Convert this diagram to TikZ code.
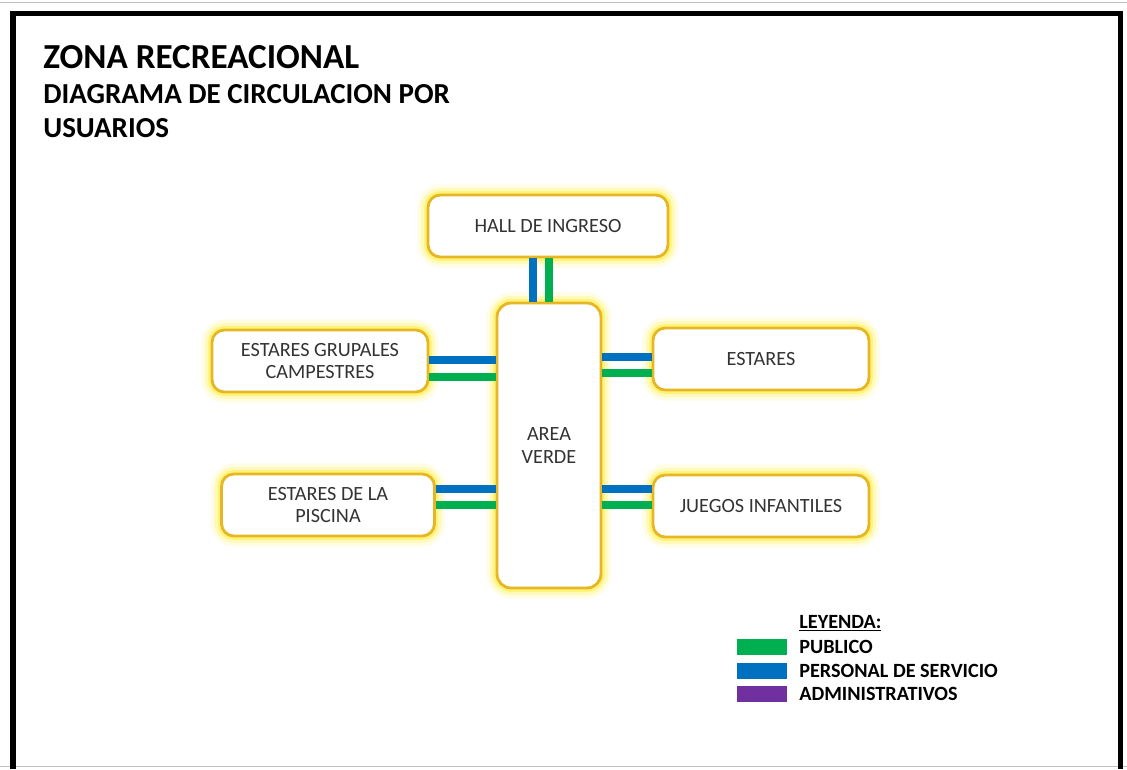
\documentclass[tikz,border=0pt]{standalone}
\usepackage{fontspec}
\setmainfont{Carlito}
\usetikzlibrary{calc}
\definecolor{marco}{RGB}{230,182,36}
\definecolor{brillo}{RGB}{255,238,40}
\definecolor{publico}{RGB}{0,176,80}
\definecolor{servicio}{RGB}{0,112,192}
\definecolor{admin}{RGB}{112,48,160}

\begin{document}
\begin{tikzpicture}[x=0.02cm,y=-0.02cm,every node/.style={font=\fontsize{11.5}{13}\selectfont,text=black!80},
  zona/.style={draw=marco,line width=1.6pt,fill=white,rounded corners=7pt,align=center,inner sep=0pt,
    preaction={draw=brillo,line width=12pt,opacity=.12},
    preaction={draw=brillo,line width=8pt,opacity=.22},
    preaction={draw=brillo,line width=4.5pt,opacity=.45}},
  barra/.style={line width=4pt},
  titulo/.style={anchor=base west,inner sep=0pt,text=black},
  ley/.style={titulo,font=\bfseries\fontsize{11.5}{13}\selectfont}]
\useasboundingbox (0,0) rectangle (1127,769);
\draw[black!25,line width=.5pt] (0,2.5)--(1127,2.5);
\draw[black!25,line width=.5pt] (0,766)--(1127,766);
\draw[line width=3.4pt] (13,769)--(13,13.5)--(1120.5,13.5)--(1120.5,769);
% titulo
\node[titulo,font=\bfseries\fontsize{20}{24}\selectfont] (zona) at (43,68) {ZONA RECREACIONAL};
\node[titulo,font=\bfseries\fontsize{16.5}{19}\selectfont] (sub1) at (43,103) {DIAGRAMA DE CIRCULACION POR};
\node[titulo,font=\bfseries\fontsize{16.5}{19}\selectfont] (sub2) at (43,137) {USUARIOS};
% zonas
\node[zona,minimum width=4.8cm,minimum height=1.24cm] (hall) at (548,226) {HALL DE INGRESO};
\node[zona,minimum width=2.08cm,minimum height=5.7cm,rounded corners=8pt] (area) at (549,445.5) {AREA\\VERDE};
\node[zona,minimum width=4.32cm,minimum height=1.24cm] (grupal) at (320,361) {ESTARES GRUPALES\\CAMPESTRES};
\node[zona,minimum width=4.32cm,minimum height=1.24cm] (estar) at (761,359) {ESTARES};
\node[zona,minimum width=4.26cm,minimum height=1.24cm] (piscina) at (328,505) {ESTARES DE LA\\PISCINA};
\node[zona,minimum width=4.32cm,minimum height=1.24cm] (juegos) at (761,506) {JUEGOS INFANTILES};
% circulaciones
\coordinate (h1) at ($(hall.south)+(-15,0)$);
\coordinate (h2) at ($(hall.south)+(1,0)$);
\draw[barra,servicio] (h1)--(h1 |- area.north);
\draw[barra,publico] (h2)--(h2 |- area.north);
\foreach \z/\lado/\borde/\a/\b in {grupal/east/west/-1/16,estar/west/east/-2/14,piscina/east/west/-16/0,juegos/west/east/-17/-1}{
  \coordinate (s) at ($(\z.\lado)+(0,\a)$);
  \coordinate (p) at ($(\z.\lado)+(0,\b)$);
  \draw[barra,servicio] (s)--(s -| area.\borde);
  \draw[barra,publico] (p)--(p -| area.\borde);
}
% leyenda
\node[ley] (leyenda) at (799,628) {\underline{LEYENDA:}};
\foreach \y/\col/\txt [count=\i] in {653/publico/PUBLICO,677/servicio/PERSONAL DE SERVICIO,700/admin/ADMINISTRATIVOS}{
  \node[ley] (l\i) at (799,\y) {\txt};
  \node[fill=\col,minimum width=1cm,minimum height=.32cm,inner sep=0pt] (m\i) at (762,\y-6.5) {};
}
\end{tikzpicture}
\end{document}
